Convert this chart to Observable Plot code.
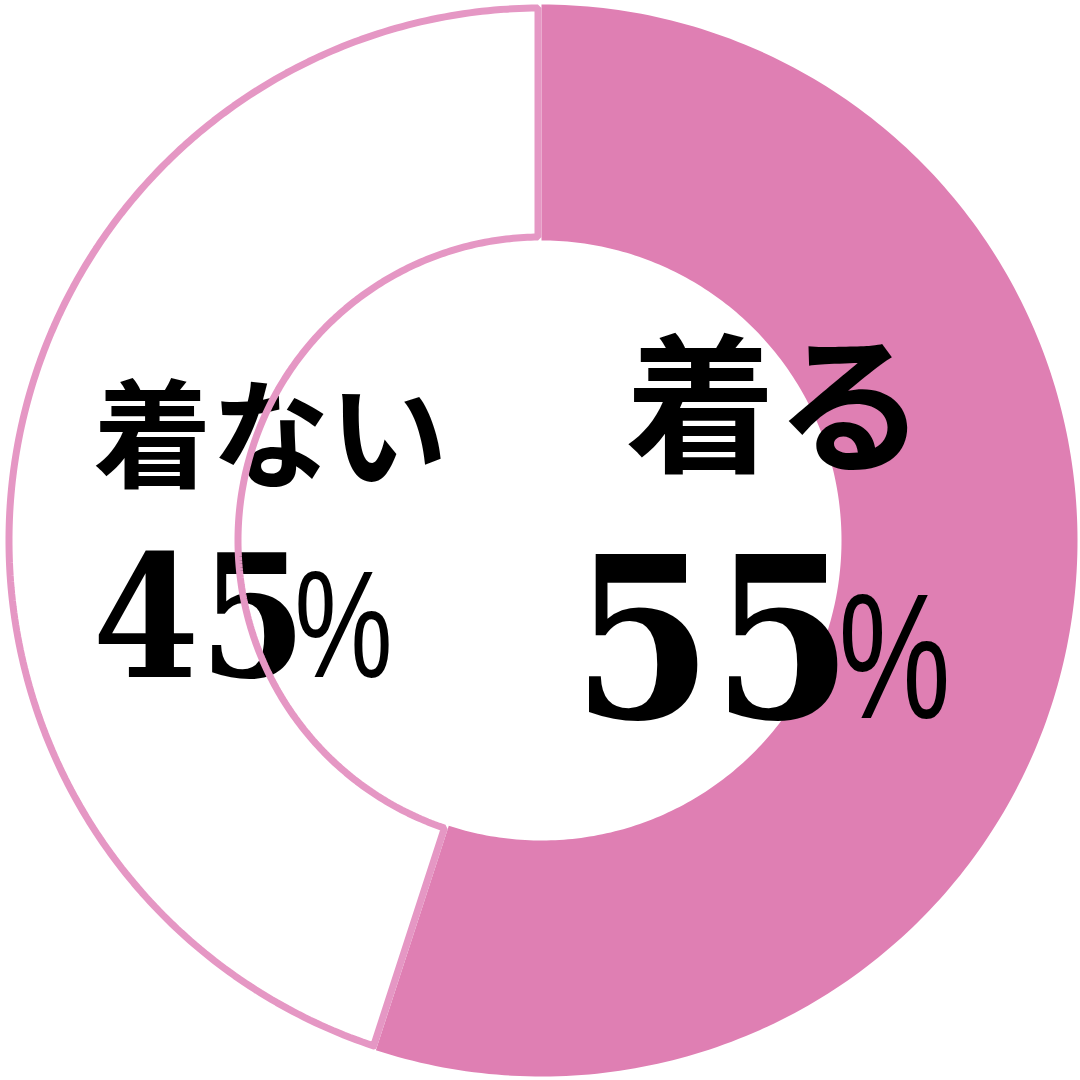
<!DOCTYPE html>
<html><head><meta charset="utf-8">
<script src="https://cdn.jsdelivr.net/npm/d3@7"></script>
<script src="https://cdn.jsdelivr.net/npm/@observablehq/plot@0.6"></script>
<style>html,body{margin:0;padding:0;background:#fff;overflow:hidden}</style>
</head><body><div id="chart"></div>
<script>
const categories = ["着る", "着ない"];
const values = [55, 45];
const percentSign = "%";

const fillColor = "#df7fb3";
const strokeColor = "#e597c4";
const outerR = 536, innerR = 300, strokeW = 7;

const arcs = d3.pie().sort(null).startAngle(0).endAngle(2 * Math.PI)(values);

function ring(cat, a0, a1, ro, ri, inset) {
  const pts = [];
  const n = 240;
  const off = r => inset ? Math.asin(inset / r) : 0;
  const oa0 = a0 + off(ro), oa1 = a1 - off(ro);
  const ia0 = a0 + off(ri), ia1 = a1 - off(ri);
  for (let i = 0; i <= n; i++) {
    const a = oa0 + (oa1 - oa0) * i / n;
    pts.push({cat, x: ro * Math.sin(a), y: ro * Math.cos(a)});
  }
  for (let i = n; i >= 0; i--) {
    const a = ia0 + (ia1 - ia0) * i / n;
    pts.push({cat, x: ri * Math.sin(a), y: ri * Math.cos(a)});
  }
  pts.push(pts[0]);
  return pts;
}

const filled = ring(categories[0], arcs[0].startAngle, arcs[0].endAngle, outerR, innerR, 0);
const empty = ring(categories[1], arcs[1].startAngle, arcs[1].endAngle, outerR - strokeW / 2, innerR + strokeW / 2, strokeW / 2);

// label anchor points (chart units = px from centre)
const nameLabels = [
  {text: categories[0], x: 234, y: 128, size: 150},
  {text: categories[1], x: -271, y: 99, size: 118}
];
const numLabels = [
  {text: values[0] + percentSign, x: 31, y: -106, size: 224, numWidth: 280, pctSize: 178, pctDx: -14, pctWidth: 112},
  {text: values[1] + percentSign, x: -449, y: -82, size: 170, numWidth: 214, pctSize: 153, pctDx: -12, pctWidth: 98}
];

const fontCJK = "'Noto Sans CJK JP', sans-serif";
const fontNum = "'DejaVu Serif', 'Liberation Serif', serif";
const fontPct = "'Liberation Sans', 'DejaVu Sans', sans-serif";

const chart = Plot.plot({
  width: 1080, height: 1080,
  margin: 0,
  x: {domain: [-541, 539], axis: null},
  y: {domain: [-540, 540], axis: null},
  marks: [
    Plot.line(empty, {x: "x", y: "y", fill: "#ffffff", stroke: "none", curve: "linear"}),
    Plot.line(filled, {x: "x", y: "y", fill: fillColor, stroke: "none", curve: "linear"}),
    Plot.text(nameLabels, {x: "x", y: "y", text: "text", fontSize: d => d.size, fontFamily: fontCJK, fontWeight: 700, fill: "#000", textAnchor: "middle"}),
    Plot.text(numLabels, {x: "x", y: "y", text: "text", fontSize: d => d.size, fontFamily: fontNum, fontWeight: 700, fill: "#000", textAnchor: "start"}),
    Plot.line(empty, {x: "x", y: "y", fill: "none", stroke: strokeColor, strokeWidth: strokeW, curve: "linear", strokeLinejoin: "miter"})
  ]
});
document.getElementById("chart").appendChild(chart);

// split "55%" into a condensed numeral run and a smaller, narrower percent sign
const byText = new Map(numLabels.map(d => [d.text, d]));
d3.select(chart).selectAll("text").each(function() {
  const d = byText.get(this.textContent);
  if (!d) return;
  const t = d3.select(this);
  t.text(null);
  t.append("tspan")
    .attr("textLength", d.numWidth).attr("lengthAdjust", "spacingAndGlyphs")
    .text(d.text.slice(0, -percentSign.length));
  t.append("tspan")
    .attr("dx", d.pctDx)
    .attr("font-family", fontPct).attr("font-weight", 400).attr("font-size", d.pctSize)
    .attr("textLength", d.pctWidth).attr("lengthAdjust", "spacingAndGlyphs")
    .text(percentSign);
});
</script>
</body></html>
